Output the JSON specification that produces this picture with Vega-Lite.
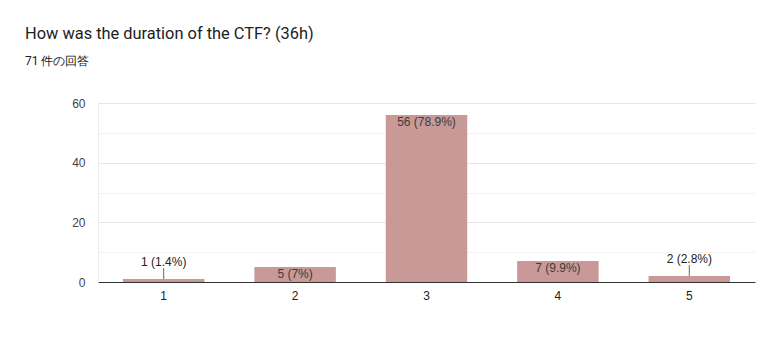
{
  "$schema": "https://vega.github.io/schema/vega-lite/v6.json",
  "autosize": "none",
  "width": 657,
  "height": 179,
  "padding": {"left": 98, "top": 103, "right": 15, "bottom": 76},
  "background": "white",
  "title": {
    "text": "How was the duration of the CTF? (36h)",
    "subtitle": "71 件の回答",
    "anchor": "start",
    "frame": "group",
    "dx": -73,
    "offset": 30,
    "font": "Roboto",
    "fontSize": 16.4,
    "fontWeight": "normal",
    "color": "#202124",
    "subtitleFont": "Roboto",
    "subtitleFontSize": 12,
    "subtitleColor": "#202124",
    "subtitlePadding": 14
  },
  "config": {
    "view": {"stroke": null},
    "font": "Liberation Sans"
  },
  "data": {
    "values": [
      {"option": "1", "count": 1, "label": "1 (1.4%)"},
      {"option": "2", "count": 5, "label": "5 (7%)"},
      {"option": "3", "count": 56, "label": "56 (78.9%)"},
      {"option": "4", "count": 7, "label": "7 (9.9%)"},
      {"option": "5", "count": 2, "label": "2 (2.8%)"}
    ]
  },
  "encoding": {
    "x": {
      "field": "option",
      "type": "ordinal",
      "scale": {"paddingInner": 0.38, "paddingOuter": 0.19},
      "axis": {
        "title": null,
        "labelAngle": 0,
        "ticks": false,
        "labelPadding": 8,
        "labelFontSize": 12,
        "labelColor": "#222222",
        "labelFont": "Liberation Sans",
        "domainColor": "#333333",
        "domainWidth": 1,
        "grid": false
      }
    },
    "y": {
      "field": "count",
      "type": "quantitative",
      "scale": {"domain": [0, 60], "nice": false},
      "axis": {
        "title": null,
        "values": [0, 10, 20, 30, 40, 50, 60],
        "labelExpr": "datum.value % 20 == 0 ? datum.label : ''",
        "ticks": false,
        "labelPadding": 13,
        "labelFontSize": 12,
        "labelColor": "#444444",
        "labelFont": "Liberation Sans",
        "domainColor": "#ececec",
        "gridColor": {"condition": {"test": "datum.value % 20 == 0", "value": "#e6e6e6"}, "value": "#f3f3f3"}
      }
    }
  },
  "layer": [
    {"mark": {"type": "bar", "color": "#c89997"}},
    {
      "transform": [{"filter": "datum.count >= 5"}],
      "mark": {"type": "text", "baseline": "top", "dy": 2, "fontSize": 12, "color": "#3c3c3c", "font": "Liberation Sans"},
      "encoding": {"text": {"field": "label"}}
    },
    {
      "transform": [{"filter": "datum.count < 5"}],
      "mark": {"type": "text", "baseline": "middle", "dy": -17, "fontSize": 12, "color": "#222222", "font": "Liberation Sans"},
      "encoding": {"text": {"field": "label"}}
    },
    {
      "transform": [{"filter": "datum.count < 5"}],
      "mark": {"type": "rule", "color": "#666666", "strokeWidth": 1, "y2Offset": -11},
      "encoding": {"y2": {"field": "count"}}
    }
  ]
}
